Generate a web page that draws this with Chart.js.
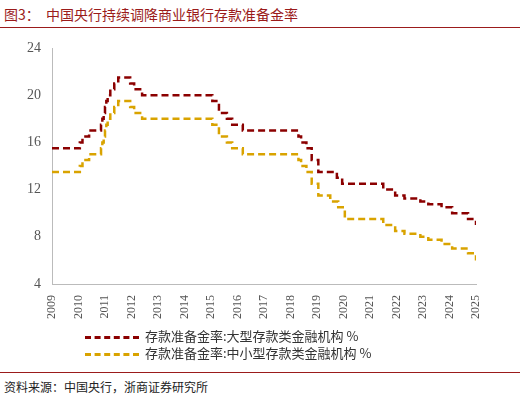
<!DOCTYPE html><html><head><meta charset="utf-8">
<script src="https://cdn.jsdelivr.net/npm/chart.js@4"></script>
<style>
body{margin:0;width:520px;height:402px;background:#fff;font-family:"Noto Sans CJK SC","Noto Sans",sans-serif;position:relative;overflow:hidden}
#t{position:absolute;left:4px;top:4px;font-size:14px;color:#9b1b1b;font-family:"Noto Sans CJK SC"}
#tl{position:absolute;left:0;top:27px;width:520px;height:1px;background:#9b1b1b}
#c{position:absolute;left:0;top:32px;width:500px;height:300px}
#lg{position:absolute;left:85px;top:327px;font-size:13px;color:#333;line-height:17px}
#lg span.l{display:inline-block;width:54px;height:0;border-top:3px dashed;vertical-align:middle;margin-right:6px}
#sl{position:absolute;left:0;top:372px;width:520px;height:1px;background:#9b1b1b}
#s{position:absolute;left:4px;top:378px;font-size:12px;color:#222}
</style></head><body>
<div id="t">图3：&nbsp;&nbsp;中国央行持续调降商业银行存款准备金率</div><div id="tl"></div>
<div id="c"><canvas id="cv"></canvas></div>
<div id="lg"><div><span class="l" style="border-color:#8b0000"></span>存款准备金率:大型存款类金融机构 %</div><div><span class="l" style="border-color:#d9a300"></span>存款准备金率:中小型存款类金融机构 %</div></div>
<div id="sl"></div><div id="s">资料来源：中国央行，浙商证券研究所</div>
<script>
const largeX=[2009.0,2010.05,2010.15,2010.4,2010.85,2010.9,2010.95,2011.0,2011.05,2011.1,2011.2,2011.35,2011.5,2011.95,2012.1,2012.4,2015.05,2015.3,2015.6,2015.8,2016.2,2018.3,2018.4,2018.6,2018.8,2019.05,2019.75,2019.95,2021.5,2021.95,2022.3,2022.9,2023.2,2023.7,2024.1,2024.7,2025.0];
const largeY=[15.5,16,16.5,17,17.5,18,18.5,19,19.5,20,20.5,21,21.5,21,20.5,20,19.5,18.5,18,17.5,17,16.5,16,15.5,14.5,13.5,13,12.5,12,11.5,11.25,11,10.75,10.5,10,9.5,9];
const smallX=[2009.0,2010.05,2010.15,2010.4,2010.85,2010.9,2010.95,2011.0,2011.05,2011.1,2011.2,2011.35,2011.5,2011.95,2012.1,2012.4,2015.05,2015.3,2015.6,2015.8,2016.2,2018.3,2018.4,2018.6,2018.8,2019.05,2019.5,2019.8,2020.05,2021.5,2021.95,2022.3,2022.9,2023.2,2023.7,2024.1,2024.7,2025.0];
const smallY=[13.5,14,14.5,15,15.5,16,16.5,17,17.5,18,18.5,19,19.5,19,18.5,18,17.5,16.5,16,15.5,15,14.5,14,13.5,12.5,11.5,11,10.5,9.5,9,8.5,8.25,8,7.75,7.4,7,6.6,6];
const yearTicks=[2009,2010,2011,2012,2013,2014,2015,2016,2017,2018,2019,2020,2021,2022,2023,2024,2025];
const yTicks=[4,8,12,16,20,24];
const pts=(xs,ys)=>xs.map((x,i)=>({x:x,y:ys[i]}));
new Chart(document.getElementById('cv'),{type:'line',data:{datasets:[
{data:pts(largeX,largeY),borderColor:'#8b0000',borderWidth:2.5,borderDash:[7,4],pointRadius:0,stepped:'before'},
{data:pts(smallX,smallY),borderColor:'#d9a300',borderWidth:2.5,borderDash:[7,4],pointRadius:0,stepped:'before'}]},
options:{animation:false,responsive:true,maintainAspectRatio:false,layout:{padding:{left:24,right:24,top:16,bottom:10}},
plugins:{legend:{display:false},tooltip:{enabled:false}},
scales:{x:{type:'linear',min:2009,max:2025,afterBuildTicks:a=>{a.ticks=yearTicks.map(v=>({value:v}))},
ticks:{maxRotation:90,minRotation:90,color:'#555',font:{size:12,family:'Liberation Serif'},callback:v=>String(v)},grid:{display:false},border:{color:'#bbb'}},
y:{min:4,max:24,afterBuildTicks:a=>{a.ticks=yTicks.map(v=>({value:v}))},ticks:{color:'#555',font:{size:14,family:'Liberation Serif'}},grid:{display:false,drawTicks:true},border:{color:'#bbb'}}}}});
</script></body></html>
